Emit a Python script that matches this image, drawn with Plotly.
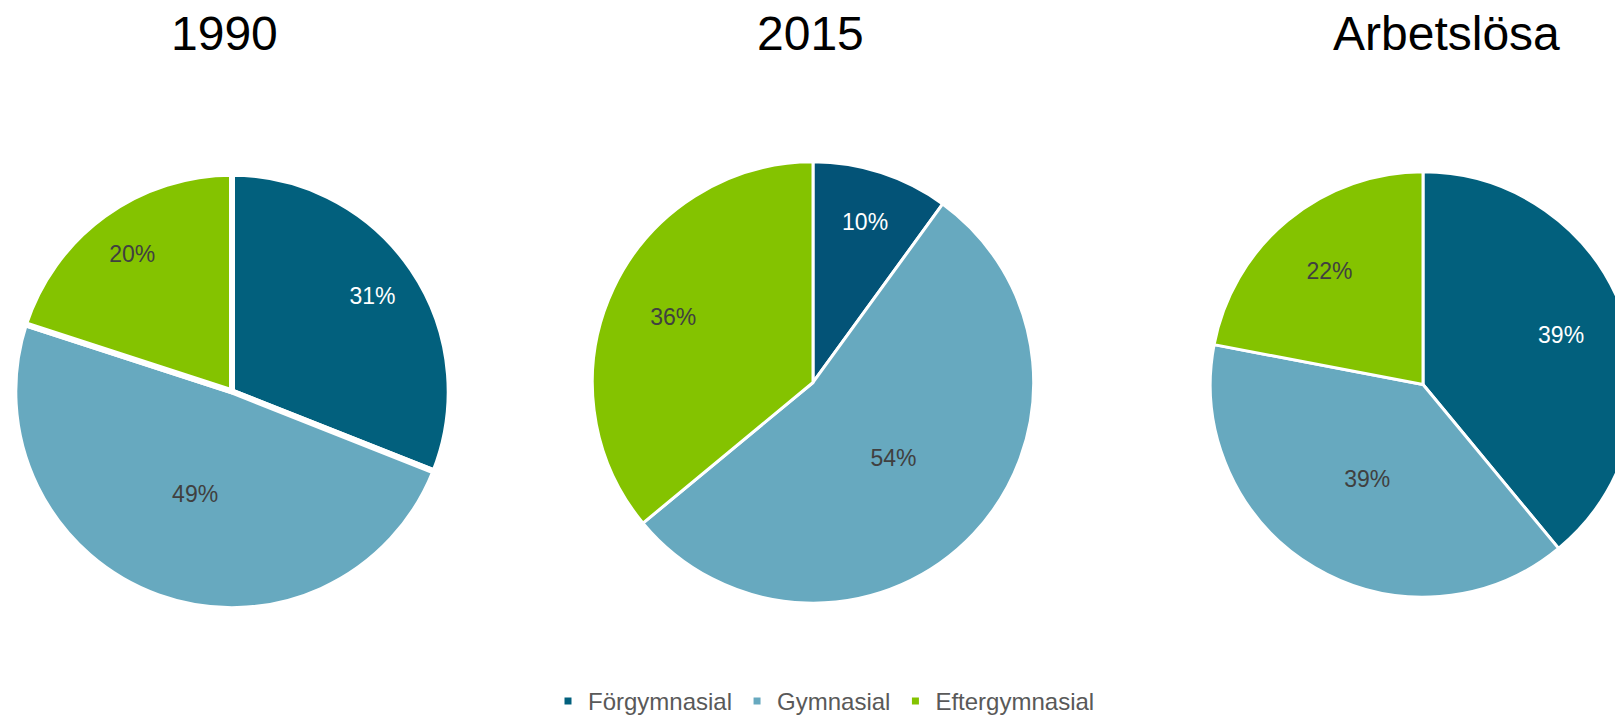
import plotly.graph_objects as go

categories = ["Förgymnasial", "Gymnasial", "Eftergymnasial"]
titles = ["1990", "2015", "Arbetslösa"]
values_1990 = [31, 49, 20]
values_2015 = [10, 54, 36]
values_arbetslosa = [39, 39, 22]

colors_a = ["#02607D", "#67A9BF", "#84C300"]
colors_b = ["#035377", "#67A9BF", "#84C300"]
label_colors = ["#FFFFFF", "#404040", "#404040"]
# which slices get their label placed in the outer ring (overlay trace)
outer_label = [True, False, True]

OFF = 8            # page body margin
W, H = 1640, 716
FONT = "Arial, Liberation Sans, sans-serif"

def dom(cx, cy, r):
    cx -= OFF; cy -= OFF
    return dict(x=[max(0, (cx - r) / W), min(1, (cx + r) / W)],
                y=[(H - cy - r) / H, (H - cy + r) / H])

pies = [
    # values, colors, domain, line width, overlay hole
    (values_1990, colors_a, dom(232, 392, 218), 6, 0.56),
    (values_2015, colors_b, dom(813, 383, 221), 3, 0.40),
    (values_arbetslosa, colors_a, dom(1423, 385, 213), 3, 0.38),
]

fig = go.Figure()
for i, (vals, cols, d, lw, hole) in enumerate(pies):
    inner_txt = ["" if o else f"{v}%" for v, o in zip(vals, outer_label)]
    outer_txt = [f"{v}%" if o else "" for v, o in zip(vals, outer_label)]
    fig.add_trace(go.Pie(
        labels=categories, values=vals, domain=d, sort=False,
        direction="clockwise", rotation=0,
        marker=dict(colors=cols, line=dict(color="white", width=lw)),
        text=inner_txt, textinfo="text", textposition="inside",
        insidetextorientation="horizontal",
        insidetextfont=dict(color=label_colors, size=23, family=FONT),
        showlegend=(i == 0), hoverinfo="label+percent",
    ))
    fig.add_trace(go.Pie(
        labels=categories, values=vals, domain=d, sort=False, hole=hole,
        direction="clockwise", rotation=0,
        marker=dict(colors=["rgba(0,0,0,0)"] * 3, line=dict(width=0)),
        text=outer_txt, textinfo="text", textposition="inside",
        insidetextorientation="horizontal",
        insidetextfont=dict(color=label_colors, size=23, family=FONT),
        showlegend=False, hoverinfo="skip",
    ))

title_x = [224, 810, 1446]
for t, x in zip(titles, title_x):
    fig.add_annotation(text=t, x=(x - OFF) / W, y=1 - (34 - OFF) / H,
                       xref="paper", yref="paper",
                       xanchor="center", yanchor="middle", showarrow=False,
                       font=dict(size=48, color="#000000", family=FONT))

fig.update_layout(
    width=W, height=H,
    margin=dict(l=0, r=0, t=0, b=0),
    paper_bgcolor="white", plot_bgcolor="white",
    font=dict(family=FONT),
    legend=dict(orientation="h", x=(824 - OFF) / W, xanchor="center",
                y=1 - (702 - OFF) / H, yanchor="middle",
                font=dict(size=24, color="#595959", family=FONT)),
)

fig.write_html("out.html")
